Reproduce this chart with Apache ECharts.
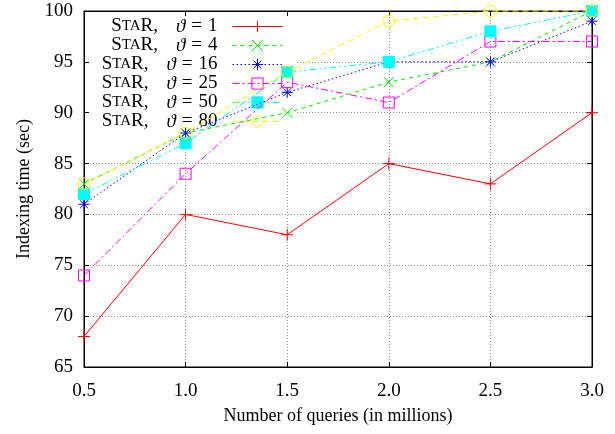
<!DOCTYPE html>
<html>
<head>
<meta charset="utf-8">
<script src="https://cdn.jsdelivr.net/npm/echarts@6/dist/echarts.min.js"></script>
<style>html,body{margin:0;padding:0;background:#fff}#c{width:615px;height:434px}</style>
</head>
<body>
<div id="c"></div>
<script>
const xValues = [0.5, 1.0, 1.5, 2.0, 2.5, 3.0];
const thetas = [1, 4, 16, 25, 50, 80];
const t1  = [68, 80, 78, 85, 83, 90];
const t4  = [83, 88, 90, 93, 95, 100];
const t16 = [81, 88, 92, 95, 95, 99];
const t25 = [74, 84, 93, 91, 97, 97];
const t50 = [82, 87, 94, 95, 98, 100];
const t80 = [83, 88, 94, 99, 100, 100];
const yTicks = {min: 65, max: 100, interval: 5};
const xTicks = {min: 0.5, max: 3.0, interval: 0.5};

const FONT = 'Liberation Serif';
const PLUS = 'path://M0,5L10,5M5,0L5,10';
const CROSS = 'path://M0,0L10,10M10,0L0,10';
const STAR = 'path://M0,5L10,5M5,0L5,10M1.5,1.5L8.5,8.5M8.5,1.5L1.5,8.5';

const styles = [
  {data: t1,  color: '#ff0000', type: 'solid', symbol: PLUS, size: 12, fill: 'transparent'},
  {data: t4,  color: '#00ee00', type: [4, 4], symbol: CROSS, size: 10, fill: 'transparent'},
  {data: t16, color: '#0000ff', type: [1.5, 2.5], symbol: STAR, size: 11, fill: 'transparent'},
  {data: t25, color: '#ff00ff', type: [7, 3, 2, 3], symbol: 'rect', size: 11, fill: 'transparent'},
  {data: t50, color: '#00ffff', type: [7, 3, 2, 3, 2, 3], symbol: 'rect', size: 11, fill: '#00ffff'},
  {data: t80, color: '#ffff00', type: [6, 4], symbol: 'circle', size: 12, fill: 'transparent'}
];

const names = thetas.map(t => 'StaR, θ = ' + t);

const series = styles.map((s, i) => ({
  name: names[i],
  type: 'line',
  data: xValues.map((x, j) => [x, s.data[j]]),
  symbol: s.symbol,
  symbolSize: s.size,
  showAllSymbol: true,
  clip: false,
  z: 3,
  lineStyle: {color: s.color, width: 1, type: s.type},
  itemStyle: {color: s.fill, borderColor: s.color, borderWidth: 1},
  emphasis: {disabled: true},
  animation: false
}));

const legendData = styles.map((s, i) => ({
  name: names[i],
  itemStyle: {color: s.fill, borderColor: s.color, borderWidth: 1},
  lineStyle: {color: s.color, width: 1, type: s.type}
}));

const gridLine = {show: true, lineStyle: {color: '#8a8a8a', type: [1, 2], width: 1}};
const LH = 17.5;

const chart = echarts.init(document.getElementById('c'), null, {renderer: 'canvas'});
chart.setOption({
  animation: false,
  backgroundColor: '#fff',
  grid: {left: 84, right: 23, top: 11, bottom: 67, show: true, borderColor: '#000', borderWidth: 1, backgroundColor: 'transparent'},
  xAxis: [{
    type: 'value', min: xTicks.min, max: xTicks.max, interval: xTicks.interval,
    name: 'Number of queries (in millions)', nameLocation: 'middle', nameGap: 40,
    nameTextStyle: {fontFamily: FONT, fontSize: 18, color: '#000'},
    axisLine: {show: true, lineStyle: {color: '#000', width: 1}},
    axisTick: {show: true, inside: true, length: 5, lineStyle: {color: '#000'}},
    axisLabel: {fontFamily: FONT, fontSize: 19, color: '#000', margin: 15, formatter: v => v.toFixed(1)},
    splitLine: gridLine
  }, {
    type: 'value', position: 'top', min: xTicks.min, max: xTicks.max, interval: xTicks.interval,
    axisLine: {show: true, lineStyle: {color: '#000'}},
    axisTick: {show: true, inside: true, length: 5, lineStyle: {color: '#000'}},
    axisLabel: {show: false}, splitLine: {show: false}
  }],
  yAxis: [{
    type: 'value', min: yTicks.min, max: yTicks.max, interval: yTicks.interval,
    name: 'Indexing time (sec)', nameLocation: 'middle', nameGap: 51, nameRotate: 90,
    nameTextStyle: {fontFamily: FONT, fontSize: 18, color: '#000'},
    axisLine: {show: true, lineStyle: {color: '#000', width: 1}},
    axisTick: {show: true, inside: true, length: 5, lineStyle: {color: '#000'}},
    axisLabel: {fontFamily: FONT, fontSize: 19, color: '#000', margin: 11},
    splitLine: gridLine
  }, {
    type: 'value', position: 'right', min: yTicks.min, max: yTicks.max, interval: yTicks.interval,
    axisLine: {show: true, lineStyle: {color: '#000'}},
    axisTick: {show: true, inside: true, length: 5, lineStyle: {color: '#000'}},
    axisLabel: {show: false}, splitLine: {show: false}
  }],
  legend: {
    orient: 'vertical', align: 'right',
    right: 320, top: 17,
    padding: [0, 12, 0, 12],
    backgroundColor: '#fff',
    z: 1,
    itemWidth: 50, itemHeight: 14, itemGap: 0,
    selectedMode: false,
    data: legendData,
    formatter: name => {
      const n = name.split('= ')[1];
      return '{b|S}{s|TA}{b|R,}{g1|}{i|ϑ}{g2|}{b|=}{g2|}{b|' + n + '}{p|}';
    },
    textStyle: {
      fontFamily: FONT, fontSize: 19, color: '#000', lineHeight: LH,
      rich: {
        b: {fontFamily: FONT, fontSize: 19, color: '#000', lineHeight: LH},
        s: {fontFamily: FONT, fontSize: 15, color: '#000', lineHeight: LH},
        i: {fontFamily: FONT, fontSize: 19, fontStyle: 'italic', color: '#000', lineHeight: LH},
        g1: {width: 18, lineHeight: LH},
        g2: {width: 6, lineHeight: LH},
        p: {width: 10, lineHeight: LH}
      }
    }
  },
  series: series
});
</script>
</body>
</html>
